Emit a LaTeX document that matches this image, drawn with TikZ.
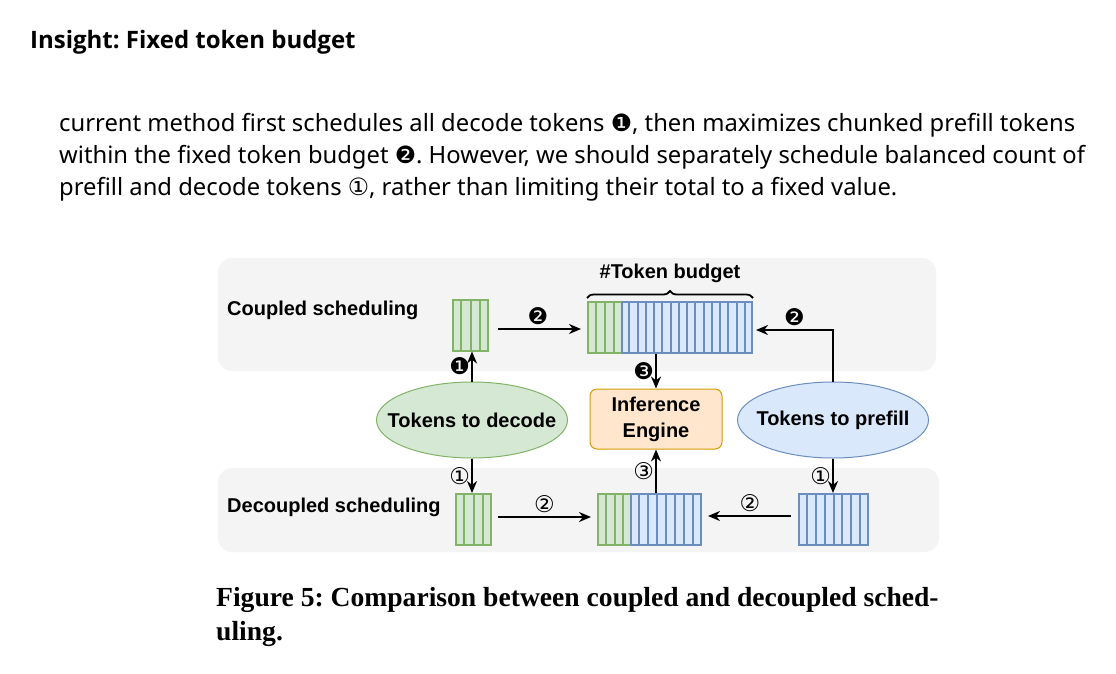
\documentclass[tikz,border=0pt]{standalone}
\usepackage{fontspec}
\setmainfont{Liberation Sans}
\newfontfamily\bodyfont{Noto Sans}
\newfontfamily\titlefont{Open Sans}
\newfontfamily\capfont{Liberation Serif}
\newfontfamily\symfont{DejaVu Sans}
\usetikzlibrary{arrows.meta,positioning,calc,decorations.pathreplacing,shapes.geometric}
\frenchspacing

\definecolor{bandgray}{HTML}{F4F4F4}
\definecolor{decfill}{HTML}{D5E8D4}
\definecolor{decline}{HTML}{82B366}
\definecolor{prefill}{HTML}{DAE8FC}
\definecolor{preline}{HTML}{6C8EBF}
\definecolor{engfill}{HTML}{FFE6CC}
\definecolor{engline}{HTML}{D79B00}

% vertical dividers inside a token block: node, number of cells, colour
\newcommand{\cellsplit}[3]{%
  \foreach \i in {1,...,#2}{%
    \ifnum\i<#2
      \draw[line width=2pt, #3] ($(#1.north west)!\i/#2!(#1.north east)$) -- ($(#1.south west)!\i/#2!(#1.south east)$);
    \fi
  }%
}

\tikzset{
  band/.style={fill=bandgray, rounded corners=14pt},
  tok/.style={draw, line width=2pt, inner sep=0pt, minimum height=51pt},
  dectok/.style={tok, draw=decline, fill=decfill},
  pretok/.style={tok, draw=preline, fill=prefill},
  pool/.style={ellipse, draw, line width=1pt, minimum width=191pt, minimum height=76pt, inner sep=0pt},
  arr/.style={-{Stealth[length=12pt,width=10pt]}, line width=2pt},
  num/.style={font=\symfont\fontsize{23}{23}\selectfont, inner sep=1pt},
  rowlabel/.style={anchor=west, inner sep=0pt},
  bodytxt/.style={anchor=base west, inner sep=0pt, font=\bodyfont\fontsize{23.8}{28}\selectfont},
  captxt/.style={anchor=base west, inner sep=0pt, font=\capfont\bfseries\fontsize{27.6}{30}\selectfont}
}

\begin{document}
\begin{tikzpicture}[x=1pt, y=-1pt, font=\bfseries\fontsize{20}{24}\selectfont]
  \useasboundingbox[fill=white] (0,0) rectangle (1116,673);

  % header text
  \node[anchor=base west, inner sep=0pt, font=\titlefont\bfseries\fontsize{24}{28}\selectfont] (insight) at (30,48) {Insight: Fixed token budget};
  \node[bodytxt] (line1) at (59,131) {current method first schedules all decode tokens {\symfont ❶}, then maximizes chunked prefill tokens};
  \node[bodytxt] (line2) at (59,163) {within the fixed token budget {\symfont ❷}. However, we should separately schedule balanced count of};
  \node[bodytxt] (line3) at (59,195) {prefill and decode tokens {\symfont ①}, rather than limiting their total to a fixed value.};

  % background bands
  \fill[band] (218,258) rectangle (936,371);
  \fill[band] (218,468) rectangle (939,552);

  \node[rowlabel] (coupled) at (227,310) {Coupled scheduling};
  \node[rowlabel] (decoupled) at (227,507) {Decoupled scheduling};

  % pools and engine
  \node[pool, fill=decfill, draw=decline, label=center:Tokens to decode] (decode) at (472,420) {};
  \node[pool, fill=prefill, draw=preline, label=center:Tokens to prefill] (prefill) at (833,420) {};
  \node[draw=engline, fill=engfill, line width=1pt, rounded corners=7pt, minimum width=132pt, minimum height=60pt, align=center, inner sep=0pt] (engine) at (656,419) {Inference\\[2pt]Engine};

  % coupled row blocks
  \node[dectok, minimum width=35pt] (cdec) at (470.5,325) {};
  \cellsplit{cdec}{4}{decline}
  \node[dectok, minimum width=34pt] (cbatchd) at (605,327.5) {};
  \cellsplit{cbatchd}{4}{decline}
  \node[pretok, minimum width=130pt] (cbatchp) at (687,327.5) {};
  \cellsplit{cbatchp}{16}{preline}

  \draw[decorate, decoration={brace, amplitude=7pt}, line width=1.8pt] ($(cbatchd.north west)+(0,-3)$) -- ($(cbatchp.north east)+(0,-3)$) node[midway, above=14pt, inner sep=0pt] (budget) {\#Token budget};

  % decoupled row blocks
  \node[dectok, minimum width=35pt] (ddec) at (473.5,519.5) {};
  \cellsplit{ddec}{4}{decline}
  \node[dectok, minimum width=33pt] (dbatchd) at (614.5,519.5) {};
  \cellsplit{dbatchd}{4}{decline}
  \node[pretok, minimum width=70pt] (dbatchp) at (666,519.5) {};
  \cellsplit{dbatchp}{8}{preline}
  \node[pretok, minimum width=69pt] (dpre) at (833.5,519.5) {};
  \cellsplit{dpre}{8}{preline}

  % coupled arrows
  \draw[arr] (decode.north) -- (decode.north |- cdec.south) node[midway, left, num] {❶};
  \draw[arr, shorten <=9pt, shorten >=6pt] (cdec.east |- 0,329) -- (cbatchd.west |- 0,329) node[midway, above=2pt, num] {❷};
  \draw[arr] (prefill.north) |- ($(cbatchp.east)+(3,2.5)$) node[pos=0.75, above=2pt, num] {❷};
  \draw[arr] (engine.north |- cbatchp.south) -- (engine.north) node[midway, left, num] {❸};

  % decoupled arrows
  \draw[arr] (decode.south) -- (decode.south |- ddec.north) node[midway, left, num] {①};
  \draw[arr, shorten <=6pt, shorten >=6pt] (ddec.east |- 0,517) -- (dbatchd.west |- 0,517) node[midway, above=2pt, num] {②};
  \draw[arr, shorten <=7pt, shorten >=6pt] (dpre.west |- 0,516) -- (dbatchp.east |- 0,516) node[midway, above=2pt, num] {②};
  \draw[arr] (engine.south |- dbatchp.north) -- (engine.south) node[midway, left, num] {③};
  \draw[arr] (prefill.south) -- (prefill.south |- dpre.north) node[midway, left, num] {①};

  % caption
  \node[captxt] (cap1) at (216,606) {Figure 5: Comparison between coupled and decoupled sched-};
  \node[captxt] (cap2) at (216,640) {uling.};
\end{tikzpicture}
\end{document}
